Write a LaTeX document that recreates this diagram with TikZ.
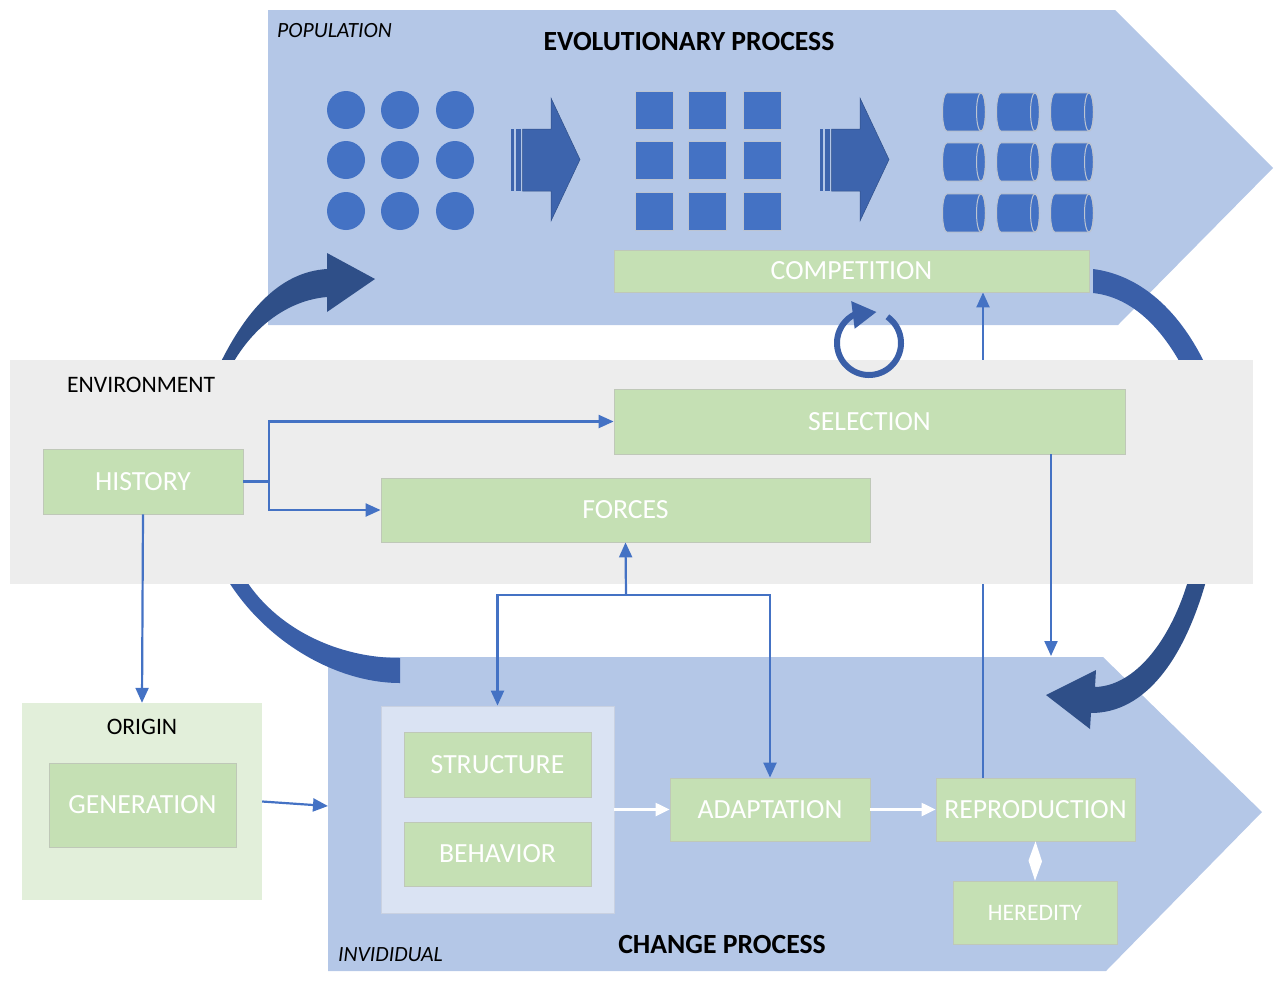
\documentclass[tikz,border=0pt]{standalone}
\usepackage{fontspec}
\setmainfont{Carlito}
\usepackage{tikz}
\usetikzlibrary{arrows.meta,bending}
\definecolor{popblue}{HTML}{B4C7E7}
\definecolor{bandgray}{HTML}{EDEDED}
\definecolor{boxgreen}{HTML}{C5E0B4}
\definecolor{boxedge}{HTML}{BFC8B8}
\definecolor{origingreen}{HTML}{E2EFDA}
\definecolor{indivblue}{HTML}{DAE3F3}
\definecolor{indivedge}{HTML}{C9D1E1}
\definecolor{shapeblue}{HTML}{4472C4}
\definecolor{shapeedge}{HTML}{BCC4D2}
\definecolor{blockblue}{HTML}{3D64AD}
\definecolor{arcdark}{HTML}{2F4F88}
\definecolor{arclight}{HTML}{3A5FA8}
\newcommand{\boxfont}{\fontsize{27.7}{32}\selectfont}
\newcommand{\labelfont}{\fontsize{23.6}{28}\selectfont}
\newcommand{\tagfont}{\fontsize{21.7}{26}\selectfont\itshape}
\pgfdeclarelayer{back}
\pgfdeclarelayer{band}
\pgfsetlayers{back,band,main}

\begin{document}
\begin{tikzpicture}[x=1pt, y=-1pt,
    box/.style={fill=boxgreen, draw=boxedge, line width=0.8pt, text=white, font=\boxfont, inner sep=0pt},
    link/.style={draw=shapeblue, line width=2.2pt, -{Triangle[length=15pt,width=13pt]}},
    wlink/.style={draw=white, line width=2.2pt, -{Triangle[length=14pt,width=13pt]}},
    dot/.style={fill=shapeblue},
    sq/.style={fill=shapeblue, draw=shapeedge, line width=0.8pt, minimum size=38pt, inner sep=0pt},
    cyl/.style={fill=shapeblue, draw=shapeedge, line width=1pt},
    block/.style={fill=blockblue, draw=arcdark, line width=0.5pt},
    title/.style={font=\boxfont\bfseries, inner sep=0pt},
    tag/.style={font=\tagfont, anchor=west, inner sep=0pt}]
  \useasboundingbox (0,0) rectangle (1283,989);

  \begin{pgfonlayer}{back}
    % process arrows
    \fill[popblue] (268,10) -- (1115,10) -- (1273,168) -- (1118,325) -- (268,325) -- cycle;
    \fill[popblue] (328,657) -- (1103,657) -- (1262,812) -- (1106,971) -- (328,971) -- cycle;
    % curved arrows round the environment
    \fill[arclight] (400,683) .. controls (335,683) and (262,640) .. (224,574) -- (242,574) .. controls (275,630) and (340,658) .. (400,658) -- cycle;
    \fill[arcdark] (216,372) .. controls (245,310) and (280,272) .. (327,269) -- (327,253) -- (375,279) -- (327,312) -- (327,297) .. controls (290,300) and (252,325) .. (228,372) -- cycle;
    \fill[arclight] (1093,269) .. controls (1140,275) and (1180,310) .. (1207,368) -- (1183,368) .. controls (1160,325) and (1130,297) .. (1093,293) -- cycle;
    \fill[arcdark] (1208,574) .. controls (1185,660) and (1145,713) .. (1091,713) -- (1090,729) -- (1046,695) -- (1096,670) -- (1095,687) .. controls (1135,686) and (1172,640) .. (1190,574) -- cycle;
  \end{pgfonlayer}
  \begin{pgfonlayer}{band}
    \fill[bandgray] (10,360) rectangle (1253,584);
  \end{pgfonlayer}

  % population
  \foreach \x in {346,400,455}
    \foreach \y in {110,160,211}
      \fill[dot] (\x,\y) circle (19);
  \foreach \x in {654,707,762}
    \foreach \y in {110,160,211}
      \node[sq] (sq-\x-\y) at (\x,\y) {};
  \foreach \x in {964,1018,1072}
    \foreach \y in {112,162,213}{
      \filldraw[cyl] (\x-17,\y-19.2) -- (\x+17,\y-19.2) arc[start angle=-90, end angle=90, x radius=4.5, y radius=19.2]
        -- (\x-17,\y+19.2) arc[start angle=90, end angle=270, x radius=4.5, y radius=19.2] -- cycle;
      \draw[cyl, fill=none] (\x+17,\y) ellipse [x radius=4.5, y radius=19.2];
    }
  \foreach \dx in {0,309}{
    \begin{scope}[shift={(\dx,0)}]
      \fill[blockblue] (511,129) rectangle (514,191);
      \fill[blockblue] (516,129) rectangle (520.5,191);
      \fill[block] (522.5,129) -- (551,129) -- (551,98) -- (580,159.5) -- (551,221) -- (551,191) -- (522.5,191) -- cycle;
    \end{scope}
  }

  % labels
  \node[tag] (poplabel) at (277,31) {POPULATION};
  \node[title] (evotitle) at (689,42) {EVOLUTIONARY PROCESS};
  \node[font=\labelfont, anchor=west, inner sep=0pt] (envlabel) at (67,385) {ENVIRONMENT};
  \node[title] (changetitle) at (722,944) {CHANGE PROCESS};
  \node[tag] (indlabel) at (338,955) {INVIDIDUAL};

  % boxes
  \node[box, minimum width=475pt, minimum height=42pt] (competition) at (851.5,271) {COMPETITION};
  \node[box, minimum width=511pt, minimum height=65pt] (selection) at (869.5,421.5) {SELECTION};
  \node[box, minimum width=200pt, minimum height=65pt] (history) at (143,481.5) {HISTORY};
  \node[box, minimum width=489pt, minimum height=64pt] (forces) at (625.5,510) {FORCES};
  \node[fill=origingreen, minimum width=240pt, minimum height=197pt, inner sep=0pt] (origin) at (142,801.5) {};
  \node[font=\labelfont, inner sep=0pt] (originlabel) at (142,727) {ORIGIN};
  \node[box, minimum width=187pt, minimum height=84pt] (generation) at (142.5,805) {GENERATION};
  \node[fill=indivblue, draw=indivedge, line width=0.8pt, minimum width=233pt, minimum height=207pt, inner sep=0pt] (individ) at (497.5,809.5) {};
  \node[box, minimum width=187pt, minimum height=65pt] (structure) at (497.5,764.5) {STRUCTURE};
  \node[box, minimum width=187pt, minimum height=64pt] (behavior) at (497.5,854) {BEHAVIOR};
  \node[box, minimum width=200pt, minimum height=63pt] (adaptation) at (770,809.5) {ADAPTATION};
  \node[box, minimum width=199pt, minimum height=63pt] (reproduction) at (1035.5,809.5) {REPRODUCTION};
  \node[box, font=\labelfont, minimum width=164pt, minimum height=63pt] (heredity) at (1035,912.5) {HEREDITY};

  % cycle of competition
  \draw[draw=arclight, line width=6pt, -{Triangle[length=24pt,width=26pt,flex]}] (869,343) ++(-55:32) arc[start angle=-55, end angle=284, radius=32];

  % connectors
  \coordinate (fork) at (269,481.5);
  \draw[link] (history.east) -- (fork) |- (selection.west);
  \draw[link] (fork) |- (forces.west);
  \draw[link] (history.south) -- (origin.north);
  \coordinate (changewest) at (328,806);
  \draw[link] (origin.east) -- (changewest);
  \coordinate (tee) at (626,595);
  \draw[link] (tee) -- (forces.south);
  \draw[link] (tee) -| (individ.north);
  \draw[link] (tee) -| (adaptation.north);
  \coordinate (seldrop) at (1051,656);
  \draw[link] (selection.south -| seldrop) -- (seldrop);
  \coordinate (riseline) at (983,0);
  \begin{pgfonlayer}{back}
    \draw[link] (reproduction.north -| riseline) -- (competition.south -| riseline);
  \end{pgfonlayer}
  \draw[wlink] (individ.east) -- (adaptation.west);
  \draw[wlink] (adaptation.east) -- (reproduction.west);
  \fill[white] (reproduction.south) -- ++(6.5,20) -- (heredity.north) -- ++(-6.5,-20) -- cycle;
\end{tikzpicture}
\end{document}
